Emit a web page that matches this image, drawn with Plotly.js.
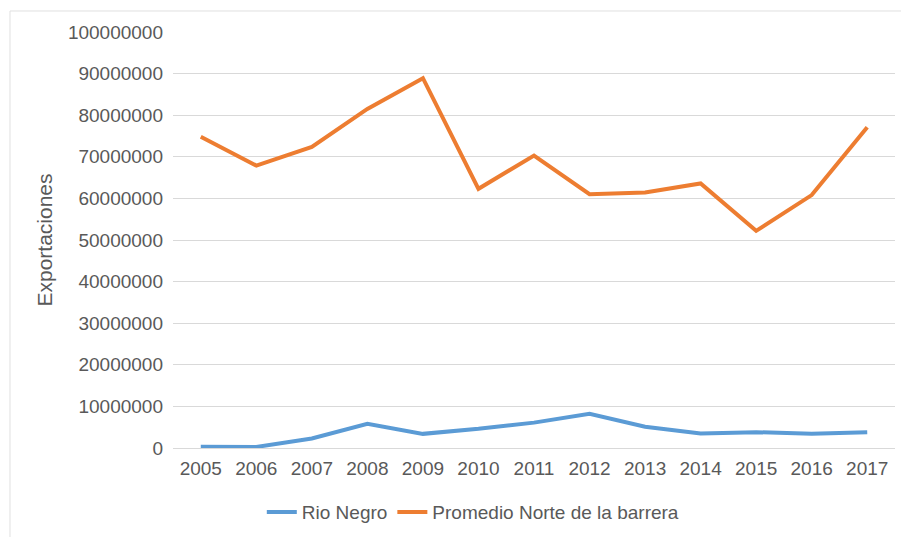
<!DOCTYPE html>
<html>
<head>
<meta charset="utf-8">
<script src="https://cdn.plot.ly/plotly-3.0.1.min.js"></script>
<style>
html,body{margin:0;padding:0;background:#fff;}
#chart{width:901px;height:537px;}
</style>
</head>
<body>
<div id="chart"></div>
<script>
const years = ['2005','2006','2007','2008','2009','2010','2011','2012','2013','2014','2015','2016','2017'];
const rioNegro = [300000, 250000, 2300000, 5800000, 3400000, 4600000, 6100000, 8200000, 5100000, 3500000, 3800000, 3400000, 3800000];
const promedioNorte = [74800000, 67900000, 72400000, 81500000, 88900000, 62300000, 70300000, 61000000, 61400000, 63600000, 52200000, 60800000, 77100000];
const seriesNames = ['Rio Negro', 'Promedio Norte de la barrera'];
const yTitle = 'Exportaciones';

const FONT = 'Liberation Sans, Arial, sans-serif';
const TXT = '#595959';

const traces = [
  {x: years, y: rioNegro, name: seriesNames[0], type: 'scatter', mode: 'lines',
   line: {color: '#5B9BD5', width: 4}},
  {x: years, y: promedioNorte, name: seriesNames[1], type: 'scatter', mode: 'lines',
   line: {color: '#ED7D31', width: 4}}
];

const layout = {
  width: 901, height: 537,
  margin: {l: 173, r: 6, t: 32, b: 89},
  paper_bgcolor: '#fff', plot_bgcolor: '#fff',
  font: {family: FONT, size: 19, color: TXT},
  showlegend: true,
  legend: {orientation: 'h', x: 0.123, xanchor: 'left', y: -0.154, yanchor: 'middle',
           font: {family: FONT, size: 19, color: TXT}, bgcolor: 'rgba(0,0,0,0)'},
  xaxis: {type: 'category', range: [-0.5, 12.5], showgrid: false, zeroline: false,
          showline: false, ticks: '', ticklabelstandoff: 7,
          tickfont: {family: FONT, size: 19, color: TXT}},
  yaxis: {range: [0, 100000000], dtick: 10000000, tick0: 0, tickformat: 'd',
          showgrid: true, gridcolor: '#d9d9d9', gridwidth: 1,
          zeroline: true, zerolinecolor: '#d9d9d9', zerolinewidth: 1,
          showline: false, ticks: '', ticklabelstandoff: 9,
          tickfont: {family: FONT, size: 19, color: TXT},
          title: {text: yTitle, font: {family: FONT, size: 21, color: TXT}, standoff: 9}},
  shapes: [
    {type: 'line', xref: 'paper', yref: 'paper', x0: -0.2258, x1: 1.02, y0: 1.0505, y1: 1.0505,
     line: {color: '#e0e0e0', width: 1}},
    {type: 'line', xref: 'paper', yref: 'paper', x0: -0.2258, x1: -0.2258, y0: 1.0505, y1: -0.25,
     line: {color: '#e0e0e0', width: 1}}
  ]
};

Plotly.newPlot('chart', traces, layout, {displayModeBar: false, staticPlot: true});
</script>
</body>
</html>
